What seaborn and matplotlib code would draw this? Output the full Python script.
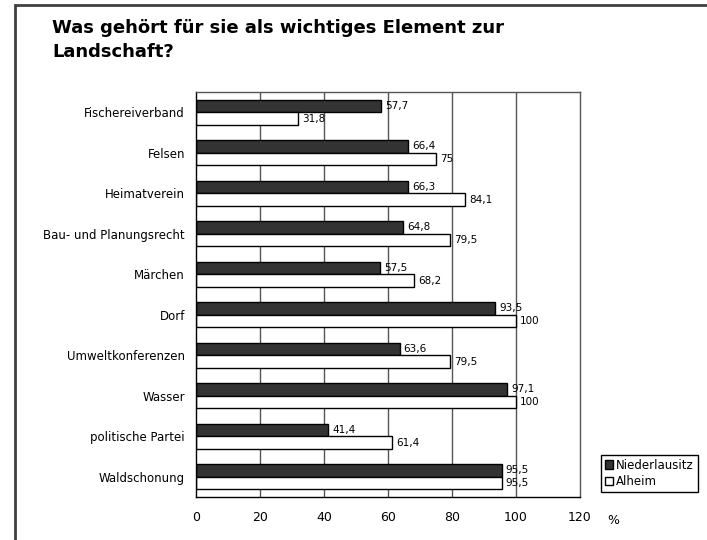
import matplotlib
matplotlib.use('Agg')
import matplotlib.pyplot as plt
import matplotlib.patches as mpatches
import pandas as pd
import seaborn as sns

# Daten aus der Grafik
kategorien = ['Fischereiverband', 'Felsen', 'Heimatverein', 'Bau- und Planungsrecht', 'Märchen',
              'Dorf', 'Umweltkonferenzen', 'Wasser', 'politische Partei', 'Waldschonung']
niederlausitz = [57.7, 66.4, 66.3, 64.8, 57.5, 93.5, 63.6, 97.1, 41.4, 95.5]
alheim = [31.8, 75, 84.1, 79.5, 68.2, 100, 79.5, 100, 61.4, 95.5]
regionen = ['Niederlausitz', 'Alheim']
x_ticks = [0, 20, 40, 60, 80, 100, 120]

df = pd.DataFrame({
    'Kategorie': kategorien * 2,
    'Wert': niederlausitz + alheim,
    'Region': [regionen[0]] * len(kategorien) + [regionen[1]] * len(kategorien),
})

sns.set_style('white')
plt.rcParams['font.family'] = ['DejaVu Sans']
plt.rcParams['text.color'] = 'black'
plt.rcParams['xtick.color'] = 'black'
plt.rcParams['ytick.color'] = 'black'

fig = plt.figure(figsize=(7.07, 5.4), dpi=100)
ax = fig.add_axes([196 / 707, 1 - 497 / 540, 384 / 707, 405 / 540])

sns.barplot(data=df, y='Kategorie', x='Wert', hue='Region', order=kategorien, hue_order=regionen,
            palette={'Niederlausitz': '#333333', 'Alheim': 'white'}, edgecolor='black',
            linewidth=1, width=0.62, orient='h', ax=ax)

# Datenbeschriftung
for cont in ax.containers:
    ax.bar_label(cont, labels=[f'{v:g}'.replace('.', ',') for v in cont.datavalues],
                 padding=3, fontsize=7.5, color='black')

ax.set_xlim(0, 120)
ax.set_ylim(len(kategorien) - 0.5, -0.5)
ax.set_xticks(x_ticks)
ax.set_xticklabels([str(t) for t in x_ticks], fontsize=9)
ax.tick_params(axis='x', direction='out', length=4, width=1, color='black', pad=6)
ax.tick_params(axis='y', which='major', length=0, labelsize=8.5, pad=8)
ax.set_yticks([i - 0.5 for i in range(len(kategorien) + 1)], minor=True)
ax.tick_params(axis='y', which='minor', direction='out', length=4, width=1, color='black')
ax.set_xlabel('')
ax.set_ylabel('')

for t in x_ticks[1:-1]:
    ax.axvline(t, color='#555555', linewidth=1, zorder=0)
for side in ['top', 'right', 'left', 'bottom']:
    ax.spines[side].set_visible(True)
    ax.spines[side].set_color('black')
    ax.spines[side].set_linewidth(1)
ax.spines['top'].set_color('#555555')
ax.spines['right'].set_color('#555555')

fig.text(607 / 707, 1 - 520 / 540, '%', fontsize=9, va='center', ha='left')

# Legende
handles = [mpatches.Patch(facecolor='#333333', edgecolor='black', label='Niederlausitz'),
           mpatches.Patch(facecolor='white', edgecolor='black', label='Alheim')]
ax.legend(handles=handles, loc='upper left', bbox_to_anchor=(601 / 707, 1 - 455 / 540),
          bbox_transform=fig.transFigure, fontsize=8.5, frameon=True, fancybox=False,
          framealpha=1, edgecolor='black', handlelength=0.7, handleheight=0.7,
          handletextpad=0.3, borderpad=0.3, labelspacing=0.3, borderaxespad=0)

# Titel
fig.text(52 / 707, 1 - 40 / 540, 'Was gehört für sie als wichtiges Element zur\nLandschaft?',
         fontsize=13, fontweight='bold', va='center', ha='left', linespacing=1.4)

# Rahmen
fig.patches.append(mpatches.Rectangle((15 / 707, -0.05), 1.0, 1 - 5 / 540 + 0.05,
                                      transform=fig.transFigure, fill=False,
                                      edgecolor='#404040', linewidth=2))

fig.savefig('out.png', dpi=100)
